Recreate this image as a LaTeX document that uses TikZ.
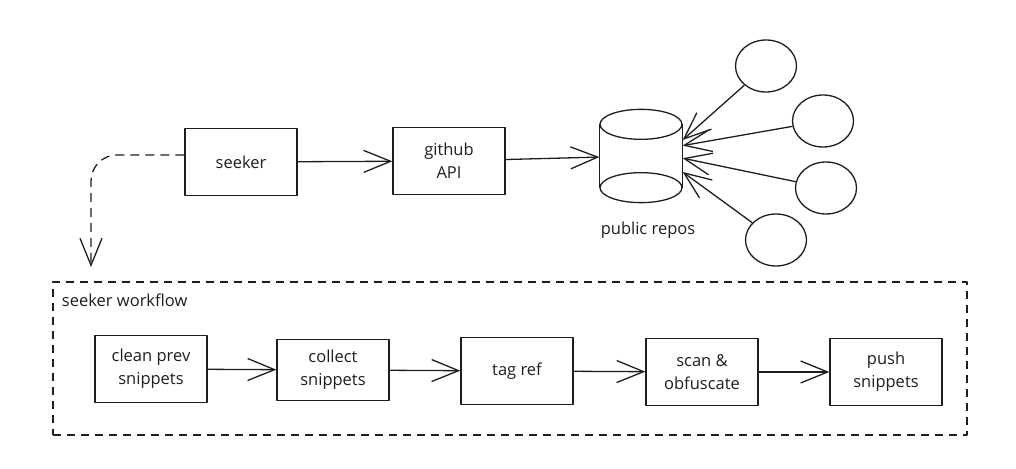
\documentclass[tikz,border=0pt]{standalone}
\usepackage{fontspec}
\setmainfont{Open Sans}
\usetikzlibrary{arrows.meta, shapes.geometric, positioning}
\definecolor{ink}{HTML}{1E1E1E}

\begin{document}
\begin{tikzpicture}[x=1pt, y=1pt, line width=1.3pt, color=ink, line join=round,
    font=\fontsize{16.5}{23}\selectfont,
    >={Straight Barb[length=27pt, width=22pt]},
    box/.style={draw, rectangle, minimum width=112pt, minimum height=67pt, align=center, inner sep=2pt},
    blob/.style={draw, ellipse, minimum width=61pt, minimum height=52pt},
    frame/.style={draw, dash pattern=on 8pt off 6pt, minimum width=914pt, minimum height=153pt},
    hop/.style={dash pattern=on 9pt off 6pt, rounded corners=26pt}]

    \useasboundingbox (0,0) rectangle (1016,468);

    \node [box] (seeker) at (241 , 306) {seeker};
    \node [box] (github) at (449 , 307) {github\\API};
    \node [minimum width=82pt, minimum height=92pt] (repos) at (641 , 312) {};
    \node (reposname) at (648 , 238) {public repos};
    \node [blob] (r1) at (766 , 402) {};
    \node [blob] (r2) at (823 , 347) {};
    \node [blob] (r3) at (826 , 280) {};
    \node [blob] (r4) at (776 , 228) {};

    \draw ([yshift=-15pt]repos.north) ellipse [x radius=41, y radius=15];
    \draw ([yshift=15pt]repos.south) ellipse [x radius=41, y radius=15];
    \draw ([yshift=-15pt]repos.north west) -- ([yshift=15pt]repos.south west);
    \draw ([yshift=-15pt]repos.north east) -- ([yshift=15pt]repos.south east);

    \node [frame] (workflow) at (510 , 109.5) {};
    \node [anchor=west] (wfname) at (58 , 168) {seeker workflow};
    \node [box] (clean) at (151 , 99) {clean prev\\snippets};
    \node [box, minimum height=61pt] (collect) at (333 , 98) {collect\\snippets};
    \node [box] (tagref) at (517 , 97) {tag ref};
    \node [box] (scan) at (702 , 96) {scan \&\\obfuscate};
    \node [box] (push) at (886 , 96) {push\\snippets};

    \coordinate (drop) at (91 , 201);

 \path[->]
      (seeker) edge (github)
      (github) edge (repos)
      (r1) edge (repos.21)
      (r2) edge (repos.14)
      (r3) edge (repos.-3)
      (r4) edge (repos.-21)
      (clean) edge (collect)
      (collect) edge (tagref)
      (tagref) edge (scan)
      (scan) edge (push);
 \draw[->, hop] ([yshift=7pt]seeker.west) -| (drop);
                        \end{tikzpicture}
\end{document}
